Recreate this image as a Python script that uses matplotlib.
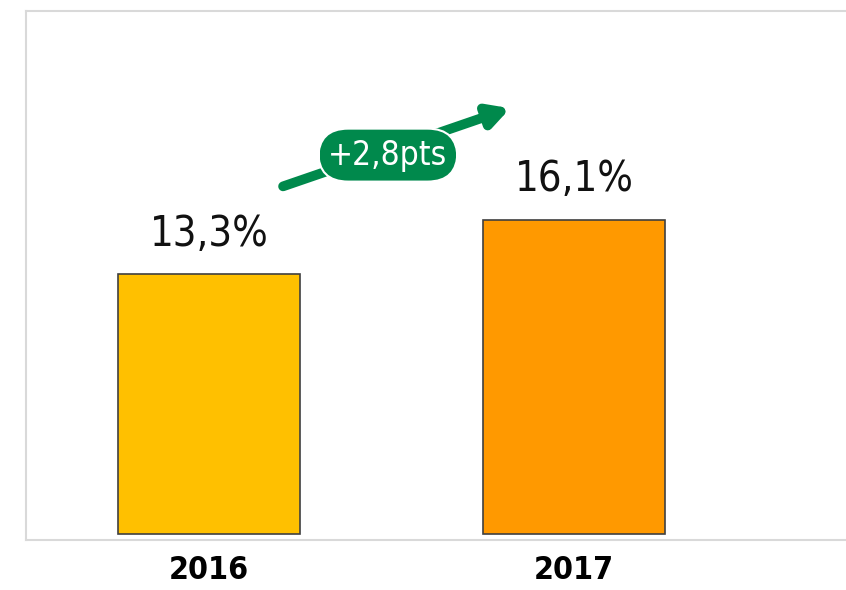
import matplotlib
matplotlib.use("Agg")
import matplotlib.pyplot as plt
from matplotlib import font_manager

# --- Dados ---
anos = ["2016", "2017"]
valores = [13.3, 16.1]
rotulos = ["13,3%", "16,1%"]
cores = ["#FFC000", "#FF9900"]
texto_variacao = "+2,8pts"

# procura uma fonte estreita instalada
estreitas = []
for f in font_manager.fontManager.ttflist:
    if "Narrow" in f.name or "Condensed" in f.name or f.stretch in ("condensed", "semi-condensed", 75, 87.5):
        estreitas.append((f.name, f.stretch))
fonte = estreitas[0][0] if estreitas else "DejaVu Sans"
esticar = estreitas[0][1] if estreitas else "normal"
fonte_lista = [fonte, "DejaVu Sans"]

fig = plt.figure(figsize=(8.46, 5.90), dpi=100)
ax = fig.add_axes([26 / 846, 1 - 540 / 590, 830 / 846, 529 / 590])

x = range(len(anos))
ax.bar(x, valores, width=0.5, color=cores, edgecolor="#404040", linewidth=1.2, zorder=3)

for xi, v, r in zip(x, valores, rotulos):
    ax.text(xi, v + 1.0, r, ha="center", va="bottom", fontsize=30,
            family=fonte_lista, stretch=esticar, color="#111111")

ax.set_xlim(-0.501, 1.772)
ax.set_ylim(-0.31, 26.78)
ax.set_yticks([])
ax.set_xticks(list(x))
ax.set_xticklabels(anos, fontsize=23, fontweight="bold", family=fonte_lista, stretch=esticar)
ax.tick_params(axis="x", length=0, pad=11)

for lado in ["top", "left", "bottom"]:
    ax.spines[lado].set_color("#d9d9d9")
    ax.spines[lado].set_linewidth(1.5)
ax.spines["right"].set_visible(False)

# Seta de variação
verde = "#00894C"
ax.annotate("", xy=(0.825, valores[1] + 5.7), xytext=(0.203, valores[0] + 4.5),
            arrowprops=dict(arrowstyle="-|>,head_length=1.2,head_width=0.65",
                            color=verde, lw=7, shrinkA=0, shrinkB=0), zorder=4)
ax.text(0.49, valores[0] + 6.1, texto_variacao, ha="center", va="center",
        fontsize=24, color="white", family=fonte_lista, stretch=esticar, zorder=5,
        bbox=dict(boxstyle="round,pad=0.3,rounding_size=0.9", fc=verde, ec="white", lw=1.5))

fig.savefig("out.png", dpi=100)
